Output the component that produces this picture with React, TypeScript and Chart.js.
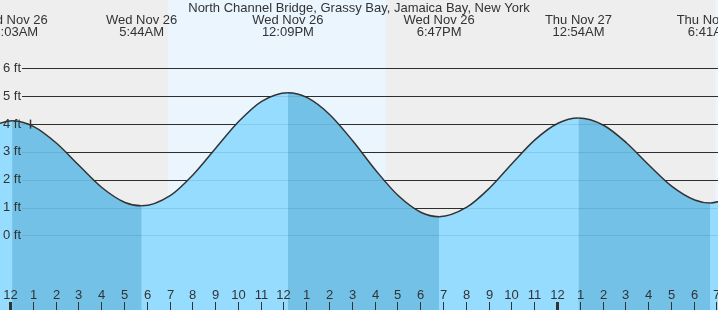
import React, { useEffect, useRef } from "react";
import { Chart, registerables } from "chart.js";

Chart.register(...registerables);

const TITLE = "North Channel Bridge, Grassy Bay, Jamaica Bay, New York";

// hours from midnight Wed Nov 26
const extremeHours = [0.05, 5.733, 12.15, 18.783, 24.9, 30.683];
const extremeFeet = [4.12, 1.06, 5.13, 0.67, 4.22, 1.16];
const extremeDates = ["Wed Nov 26", "Wed Nov 26", "Wed Nov 26", "Wed Nov 26", "Thu Nov 27", "Thu Nov 27"];
const extremeTimes = ["12:03AM", "5:44AM", "12:09PM", "6:47PM", "12:54AM", "6:41AM"];

const readingHours = [-1, 1, 2, 3, 4, 5, 7, 8, 9, 10, 11, 13, 14, 15, 16, 17, 18, 20, 21, 22, 23, 24, 26, 27, 28, 29, 30, 32];
const readingFeet = [3.89, 3.91, 3.31, 2.5, 1.71, 1.18, 1.44, 2.19, 3.15, 4.1, 4.82, 4.95, 4.33, 3.39, 2.34, 1.42, 0.82, 1.01, 1.7, 2.59, 3.44, 4.03, 3.96, 3.33, 2.52, 1.76, 1.27, 1.56];

const daylight = [[6.88, 16.45], [30.9, 40.9]];
const feetTicks = [0, 1, 2, 3, 4, 5, 6];
const nowHour = 0.83;
const nowFeet = 4.0;

const X_MIN = -0.4827;
const X_MAX = 31.022;
const Y_MIN = -2.687;
const Y_MAX = 8.464;

const FONT = '13px "Liberation Sans", Arial, sans-serif';
const TEXT = "#333333";
const LIGHT = "rgb(150,220,255)";
const DARK = "rgb(115,193,230)";

function isFalling(x: number) {
  for (let i = 0; i < extremeHours.length - 1; i++) {
    if (x >= extremeHours[i] - 1e-6 && x < extremeHours[i + 1] - 1e-6) {
      return extremeFeet[i] > extremeFeet[i + 1];
    }
  }
  return false;
}

export default function App() {
  const ref = useRef<HTMLCanvasElement | null>(null);

  useEffect(() => {
    document.body.style.margin = "0";
    const canvas = ref.current!;
    const pts: { x: number; y: number }[] = [];
    readingHours.forEach((h, i) => pts.push({ x: h, y: readingFeet[i] }));
    extremeHours.forEach((h, i) => pts.push({ x: h, y: extremeFeet[i] }));
    pts.sort((a, b) => a.x - b.x);

    const decor = {
      id: "tideDecor",
      beforeDraw(chart: any) {
        const { ctx, scales } = chart;
        const xs = scales.x;
        ctx.save();
        ctx.fillStyle = "#eeeeee";
        ctx.fillRect(0, 0, chart.width, chart.height);
        ctx.fillStyle = "#eaf5fe";
        daylight.forEach(([s, e]) => {
          const x0 = xs.getPixelForValue(s);
          const x1 = xs.getPixelForValue(e);
          ctx.fillRect(x0, 0, x1 - x0, chart.height);
        });
        ctx.restore();
      },
      beforeDatasetsDraw(chart: any) {
        const { ctx, scales } = chart;
        const ys = scales.y;
        ctx.save();
        ctx.strokeStyle = "#333333";
        ctx.lineWidth = 1;
        feetTicks.forEach((f) => {
          const y = Math.round(ys.getPixelForValue(f)) + 0.5;
          ctx.beginPath();
          ctx.moveTo(22, y);
          ctx.lineTo(chart.width, y);
          ctx.stroke();
        });
        ctx.restore();
      },
      afterDatasetsDraw(chart: any) {
        const { ctx, scales } = chart;
        const xs = scales.x;
        const ys = scales.y;
        ctx.save();
        ctx.strokeStyle = "rgba(0,0,0,0.09)";
        ctx.lineWidth = 1;
        feetTicks.forEach((f) => {
          const y = Math.round(ys.getPixelForValue(f)) + 0.5;
          ctx.beginPath();
          ctx.moveTo(22, y);
          ctx.lineTo(chart.width, y);
          ctx.stroke();
        });
        ctx.fillStyle = TEXT;
        ctx.font = FONT;
        ctx.textAlign = "left";
        ctx.textBaseline = "middle";
        feetTicks.forEach((f) => {
          ctx.fillText(f + " ft", 3, ys.getPixelForValue(f));
        });
        ctx.textAlign = "center";
        ctx.fillText(TITLE, chart.width / 2, 8);
        extremeHours.forEach((h, i) => {
          const x = xs.getPixelForValue(h);
          ctx.fillText(extremeDates[i], x, 20);
          ctx.fillText(extremeTimes[i], x, 32);
        });
        for (let h = Math.ceil(X_MIN); h <= Math.floor(X_MAX); h++) {
          const x = Math.round(xs.getPixelForValue(h)) - 0.5;
          const hr = ((h % 12) + 12) % 12;
          const lab = hr === 0 ? "12" : String(hr);
          ctx.fillStyle = TEXT;
          ctx.fillText(lab, x, 295);
          ctx.strokeStyle = TEXT;
          const midnight = ((h % 24) + 24) % 24 === 0;
          ctx.lineWidth = midnight ? 3 : 1;
          ctx.beginPath();
          ctx.moveTo(x, 302);
          ctx.lineTo(x, chart.height);
          ctx.stroke();
        }
        const mx = Math.round(xs.getPixelForValue(nowHour)) + 0.5;
        const my = ys.getPixelForValue(nowFeet);
        ctx.strokeStyle = TEXT;
        ctx.lineWidth = 1.5;
        ctx.beginPath();
        ctx.moveTo(mx, my - 4.5);
        ctx.lineTo(mx, my + 4.5);
        ctx.stroke();
        ctx.restore();
      },
    };

    const chart = new Chart(canvas, {
      type: "line",
      data: {
        datasets: [
          {
            data: pts,
            borderWidth: 0,
            borderColor: "rgba(0,0,0,0)",
            pointRadius: 0,
            fill: "start",
            backgroundColor: LIGHT,
            cubicInterpolationMode: "monotone",
            order: 2,
          } as any,
          {
            data: pts,
            borderColor: "#333333",
            borderWidth: 1.5,
            pointRadius: 0,
            fill: "start",
            backgroundColor: "rgba(0,0,0,0)",
            cubicInterpolationMode: "monotone",
            order: 1,
            segment: {
              backgroundColor: (c: any) => (isFalling(c.p0.parsed.x) ? DARK : "rgba(0,0,0,0)"),
            },
          } as any,
        ],
      },
      options: {
        animation: false,
        responsive: false,
        devicePixelRatio: 1,
        layout: { padding: 0 },
        plugins: { legend: { display: false }, tooltip: { enabled: false }, title: { display: false } },
        scales: {
          x: { type: "linear", min: X_MIN, max: X_MAX, display: false },
          y: { type: "linear", min: Y_MIN, max: Y_MAX, display: false },
        },
      },
      plugins: [decor],
    });
    return () => chart.destroy();
  }, []);

  return (
    <div style={{ width: 718, height: 310 }}>
      <canvas ref={ref} width={718} height={310} style={{ display: "block" }} />
    </div>
  );
}
